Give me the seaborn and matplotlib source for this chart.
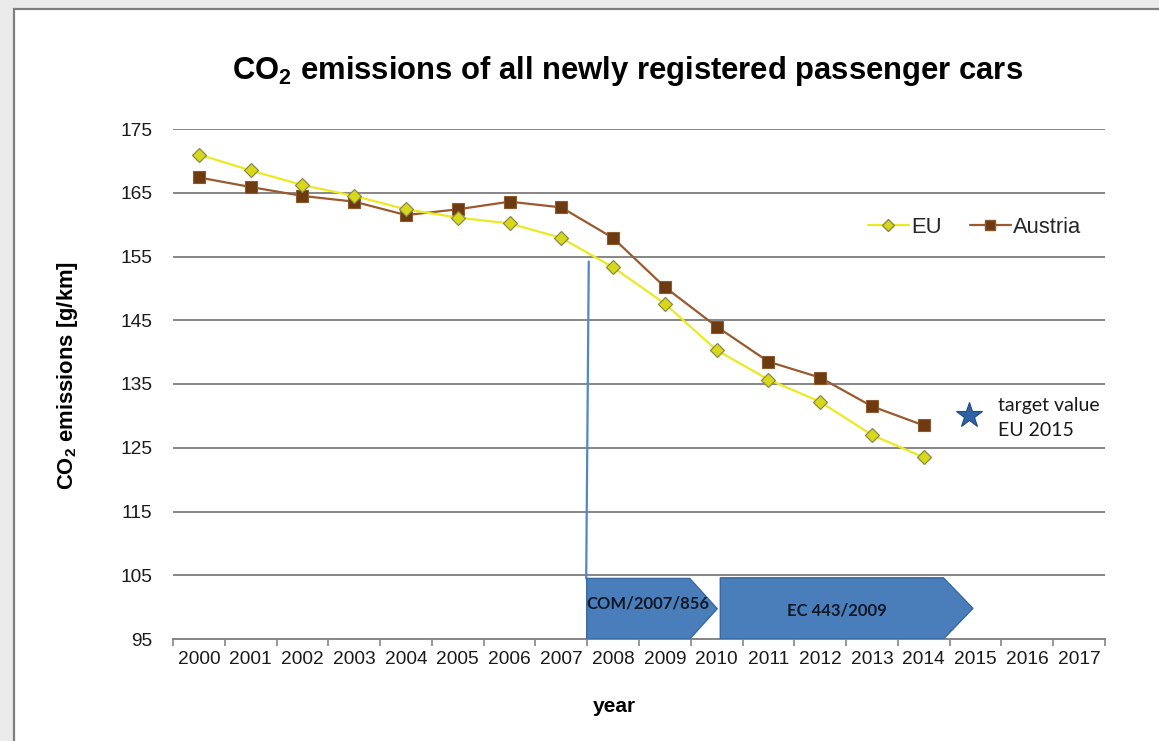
import matplotlib
matplotlib.use("Agg")
import matplotlib.pyplot as plt
from matplotlib.patches import Polygon, Rectangle
from matplotlib.lines import Line2D
import seaborn as sns
import pandas as pd

# ---------------- data ----------------
years = list(range(2000, 2015))
eu = [171.0, 168.5, 166.2, 164.5, 162.4, 161.1, 160.2, 157.9, 153.3, 147.6, 140.3, 135.7, 132.2, 127.0, 123.5]
austria = [167.4, 165.9, 164.5, 163.6, 161.5, 162.4, 163.6, 162.7, 157.9, 150.2, 144.0, 138.5, 136.0, 131.5, 128.5]
tick_years = list(range(2000, 2018))
y_ticks = [95, 105, 115, 125, 135, 145, 155, 165, 175]
target_pos = [2014.87]
target_val = [130.2]
target_label = "target value\nEU 2015"
policy_labels = ["COM/2007/856", "EC 443/2009"]
# arrow shapes: (left, body end, tip, bottom, top)
policy_spans = [(2007.49, 2009.48, 2010.01, 95.0, 104.5),
                (2010.07, 2014.38, 2014.95, 95.0, 104.6)]
policy_text_pos = [(2008.67, 100.5), (2012.32, 99.5)]
vline_x = 2007.5
vline_top = 154.2

df_eu = pd.DataFrame({"year": years, "value": eu})
df_at = pd.DataFrame({"year": years, "value": austria})

# ---------------- style ----------------
sns.set_theme(style="white")
plt.rcParams["font.family"] = ["Liberation Sans", "DejaVu Sans"]
plt.rcParams["mathtext.fontset"] = "custom"
plt.rcParams["mathtext.rm"] = "Liberation Sans"
plt.rcParams["mathtext.bf"] = "Liberation Sans:bold"

W, H = 1159, 741
fig = plt.figure(figsize=(W / 100, H / 100), dpi=100, facecolor="#ebebeb")

# white panel with grey border
fig.patches.append(Rectangle((14 / W, -0.01), 1.2, 1 - 9 / H + 0.01, transform=fig.transFigure,
                             facecolor="white", edgecolor="#7f7f7f", linewidth=1.6, zorder=-10))

ax = fig.add_axes([173 / W, 1 - 639 / H, (1105 - 173) / W, (639 - 129) / H])
ax.set_facecolor("none")
ax.set_zorder(1)

sns.lineplot(data=df_at, x="year", y="value", ax=ax, color="#9a5a30", linewidth=1.6,
             marker="s", markersize=8, markerfacecolor="#6e3a10", markeredgecolor="#8c5a30",
             markeredgewidth=0.8, label="Austria", zorder=3)
sns.lineplot(data=df_eu, x="year", y="value", ax=ax, color="#eaea22", linewidth=1.6,
             marker="D", markersize=7.5, markerfacecolor="#d8d81a", markeredgecolor="#8a8a4a",
             markeredgewidth=0.9, label="EU", zorder=4)

# target star
ax.plot(target_pos, target_val, marker="*", linestyle="none", markersize=19,
        markerfacecolor="#2f62a5", markeredgecolor="#1f4a80", markeredgewidth=0.8, zorder=5)
ax.text(target_pos[0] + 0.56, target_val[0] - 0.5, target_label, fontsize=14,
        family=["Lato", "DejaVu Sans"], va="center", ha="left", color="#1a1a1a", linespacing=1.6)

# vertical blue line
ax.plot([vline_x + 0.03, vline_x - 0.02], [vline_top, policy_spans[0][4]], color="#4f87c8",
        linewidth=1.6, zorder=2)

# policy arrows
for (l, b, t, y0, y1), lab, (tx, ty) in zip(policy_spans, policy_labels, policy_text_pos):
    poly = Polygon([(l, y0), (l, y1), (b, y1), (t, (y0 + y1) / 2), (b, y0)], closed=True,
                   facecolor="#4a7ebb", edgecolor="#3a68a0", linewidth=1.0, zorder=3)
    ax.add_patch(poly)
    ax.text(tx, ty, lab, ha="center", va="center", fontsize=12, fontweight="bold",
            family=["Lato", "DejaVu Sans"], color="#111827", zorder=6)

# axes
ax.set_xlim(1999.5, 2017.5)
ax.set_ylim(95, 175)
ax.set_yticks(y_ticks)
ax.set_yticklabels([str(v) for v in y_ticks])
ax.set_xticks(tick_years)
ax.set_xticklabels([str(v) for v in tick_years])
ax.set_xticks([y - 0.5 for y in tick_years] + [tick_years[-1] + 0.5], minor=True)
ax.tick_params(axis="x", which="major", length=0, pad=9, labelsize=13.8, colors="#1a1a1a")
ax.tick_params(axis="x", which="minor", length=5, width=1.2, color="#868686", direction="out", bottom=True)
ax.tick_params(axis="y", which="major", length=0, pad=15, labelsize=13.8, colors="#1a1a1a")
ax.grid(axis="y", color="#868686", linewidth=1.4)
ax.set_axisbelow(True)
for s in ["top", "right", "left"]:
    ax.spines[s].set_visible(False)
ax.spines["bottom"].set_color("#868686")
ax.spines["bottom"].set_linewidth(1.4)
ax.set_xlabel("")
ax.set_ylabel("")

# legend
handles = [Line2D([], [], color="#eaea22", linewidth=1.6, marker="D", markersize=6.5,
                  markerfacecolor="#d8d81a", markeredgecolor="#8a8a4a"),
           Line2D([], [], color="#9a5a30", linewidth=1.6, marker="s", markersize=6.5,
                  markerfacecolor="#6e3a10", markeredgecolor="#8c5a30")]
ax.legend(handles, ["EU", "Austria"], ncol=2, frameon=False, loc="center right",
          bbox_to_anchor=(0.975, 0.807), fontsize=15.8, handlelength=1.9, handletextpad=0.1,
          columnspacing=1.25, borderaxespad=0, borderpad=0)

# titles
fig.text(628 / W, 1 - 71 / H, r"CO$_{\mathbf{2}}$ emissions of all newly registered passenger cars",
         ha="center", va="center", fontsize=22.3, fontweight="bold", color="black")
fig.text(68 / W, 1 - 375 / H, r"CO$_{\mathbf{2}}$ emissions [g/km]", rotation=90, ha="center",
         va="center", fontsize=15.8, fontweight="bold", color="black")
fig.text(614 / W, 1 - 706 / H, "year", ha="center", va="center", fontsize=15,
         fontweight="bold", color="black")

fig.savefig("out.png", dpi=100, facecolor=fig.get_facecolor())
